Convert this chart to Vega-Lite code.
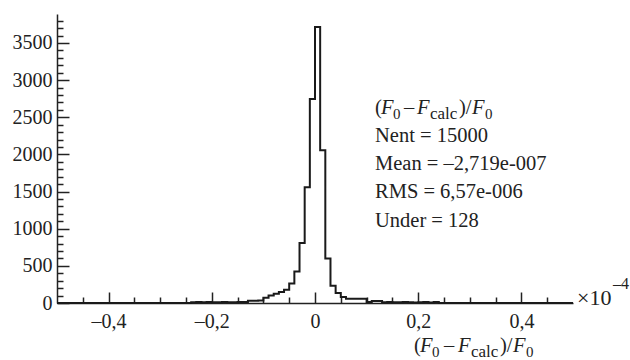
{
  "$schema": "https://vega.github.io/schema/vega-lite/v6.json",
  "width": 516,
  "height": 289,
  "autosize": {"type": "none"},
  "padding": {"left": 57, "top": 14, "right": 57, "bottom": 57},
  "background": "white",
  "config": {
    "view": {"stroke": null},
    "font": "Liberation Serif",
    "axis": {
      "labelFont": "Liberation Serif",
      "labelFontSize": 20,
      "labelColor": "#222",
      "domainColor": "#222",
      "tickColor": "#222",
      "domainWidth": 1.5,
      "tickWidth": 1.5,
      "grid": false,
      "title": null,
      "labelOverlap": false,
      "labelFlush": false
    },
    "text": {"font": "Liberation Serif", "color": "#222", "fontSize": 20.5, "align": "left", "baseline": "alphabetic"}
  },
  "datasets": {
    "hist": [
      {"x": -0.5, "n": 0}, {"x": -0.24, "n": 10}, {"x": -0.23, "n": 12}, {"x": -0.22, "n": 10}, {"x": -0.21, "n": 12},
      {"x": -0.2, "n": 10}, {"x": -0.19, "n": 10}, {"x": -0.18, "n": 12}, {"x": -0.17, "n": 10}, {"x": -0.16, "n": 10},
      {"x": -0.15, "n": 12}, {"x": -0.14, "n": 12}, {"x": -0.13, "n": 30}, {"x": -0.12, "n": 30}, {"x": -0.11, "n": 32},
      {"x": -0.1, "n": 72}, {"x": -0.09, "n": 100}, {"x": -0.08, "n": 126}, {"x": -0.07, "n": 148}, {"x": -0.06, "n": 180},
      {"x": -0.05, "n": 261}, {"x": -0.04, "n": 425}, {"x": -0.03, "n": 808}, {"x": -0.02, "n": 1557}, {"x": -0.01, "n": 2746},
      {"x": 0.0, "n": 3715}, {"x": 0.01, "n": 2055}, {"x": 0.02, "n": 598}, {"x": 0.03, "n": 232}, {"x": 0.04, "n": 135},
      {"x": 0.05, "n": 81}, {"x": 0.06, "n": 57}, {"x": 0.07, "n": 57}, {"x": 0.08, "n": 57}, {"x": 0.09, "n": 57},
      {"x": 0.1, "n": 12}, {"x": 0.11, "n": 27}, {"x": 0.12, "n": 27}, {"x": 0.13, "n": 10}, {"x": 0.14, "n": 12},
      {"x": 0.15, "n": 10}, {"x": 0.16, "n": 10}, {"x": 0.17, "n": 12}, {"x": 0.18, "n": 10}, {"x": 0.19, "n": 8},
      {"x": 0.2, "n": 10}, {"x": 0.21, "n": 14}, {"x": 0.22, "n": 8}, {"x": 0.23, "n": 12}, {"x": 0.24, "n": 0},
      {"x": 0.5, "n": 0}
    ],
    "one": [{}]
  },
  "resolve": {"axis": {"x": "independent", "y": "independent"}},
  "layer": [
    {
      "data": {"name": "hist"},
      "mark": {"type": "line", "interpolate": "step-after", "strokeOpacity": 0},
      "encoding": {
        "x": {
          "field": "x", "type": "quantitative",
          "scale": {"domain": [-0.5, 0.5], "nice": false, "zero": false},
          "axis": {"orient": "bottom", "values": [-0.45, -0.35, -0.3, -0.25, -0.15, -0.1, -0.05, 0.05, 0.1, 0.15, 0.25, 0.3, 0.35, 0.45], "tickSize": -6, "labels": false, "domain": false}
        },
        "y": {
          "field": "n", "type": "quantitative",
          "scale": {"domain": [0, 3890], "nice": false},
          "axis": {"orient": "left", "values": [100, 200, 300, 400, 600, 700, 800, 900, 1100, 1200, 1300, 1400, 1600, 1700, 1800, 1900, 2100, 2200, 2300, 2400, 2600, 2700, 2800, 2900, 3100, 3200, 3300, 3400, 3600, 3700, 3800], "tickSize": -6, "labels": false, "domain": false}
        }
      }
    },
    {
      "data": {"name": "hist"},
      "mark": {"type": "line", "interpolate": "step-after", "color": "#1a1a1a", "strokeWidth": 2},
      "encoding": {
        "x": {
          "field": "x", "type": "quantitative",
          "axis": {
            "orient": "bottom",
            "values": [-0.4, -0.2, 0, 0.2, 0.4],
            "tickSize": -11,
            "labelPadding": 19,
            "labelExpr": "datum.value === 0 ? '0' : (datum.value < 0 ? '–' : '') + replace(format(abs(datum.value), '.1f'), '.', ',')"
          }
        },
        "y": {
          "field": "n", "type": "quantitative",
          "axis": {
            "orient": "left",
            "values": [0, 500, 1000, 1500, 2000, 2500, 3000, 3500],
            "format": "d",
            "tickSize": -12,
            "labelPadding": 17
          }
        }
      }
    },
    {"data": {"name": "one"}, "mark": {"type": "text", "dx": 0}, "encoding": {"x": {"datum": 0.1163, "axis": null}, "y": {"datum": 2544, "axis": null}, "text": {"value": "("}}},
    {"data": {"name": "one"}, "mark": {"type": "text", "dx": 6, "fontStyle": "italic"}, "encoding": {"x": {"datum": 0.1163, "axis": null}, "y": {"datum": 2544, "axis": null}, "text": {"value": "F"}}},
    {"data": {"name": "one"}, "mark": {"type": "text", "dx": 18, "dy": 5, "fontSize": 15}, "encoding": {"x": {"datum": 0.1163, "axis": null}, "y": {"datum": 2544, "axis": null}, "text": {"value": "0"}}},
    {"data": {"name": "one"}, "mark": {"type": "text", "dx": 29}, "encoding": {"x": {"datum": 0.1163, "axis": null}, "y": {"datum": 2544, "axis": null}, "text": {"value": "–"}}},
    {"data": {"name": "one"}, "mark": {"type": "text", "dx": 42, "fontStyle": "italic"}, "encoding": {"x": {"datum": 0.1163, "axis": null}, "y": {"datum": 2544, "axis": null}, "text": {"value": "F"}}},
    {"data": {"name": "one"}, "mark": {"type": "text", "dx": 55, "dy": 5, "fontSize": 17}, "encoding": {"x": {"datum": 0.1163, "axis": null}, "y": {"datum": 2544, "axis": null}, "text": {"value": "calc"}}},
    {"data": {"name": "one"}, "mark": {"type": "text", "dx": 84}, "encoding": {"x": {"datum": 0.1163, "axis": null}, "y": {"datum": 2544, "axis": null}, "text": {"value": ")/"}}},
    {"data": {"name": "one"}, "mark": {"type": "text", "dx": 97, "fontStyle": "italic"}, "encoding": {"x": {"datum": 0.1163, "axis": null}, "y": {"datum": 2544, "axis": null}, "text": {"value": "F"}}},
    {"data": {"name": "one"}, "mark": {"type": "text", "dx": 110, "dy": 5, "fontSize": 15}, "encoding": {"x": {"datum": 0.1163, "axis": null}, "y": {"datum": 2544, "axis": null}, "text": {"value": "0"}}},
    {"data": {"name": "one"}, "mark": {"type": "text", "lineHeight": 28.3}, "encoding": {"x": {"datum": 0.1163, "axis": null}, "y": {"datum": 2171, "axis": null}, "text": {"value": ["Nent = 15000", "Mean = –2,719e-007", "RMS = 6,57e-006", "Under = 128"]}}},
    {"data": {"name": "one"}, "mark": {"type": "text", "dx": 4, "dy": 2, "fontSize": 22}, "encoding": {"x": {"datum": 0.5, "axis": null}, "y": {"datum": 0, "axis": null}, "text": {"value": "×10"}}},
    {"data": {"name": "one"}, "mark": {"type": "text", "dx": 40, "dy": -14, "fontSize": 16}, "encoding": {"x": {"datum": 0.5, "axis": null}, "y": {"datum": 0, "axis": null}, "text": {"value": "–4"}}},
    {"data": {"name": "one"}, "mark": {"type": "text", "dx": 0, "dy": 49}, "encoding": {"x": {"datum": 0.1919, "axis": null}, "y": {"datum": 0, "axis": null}, "text": {"value": "("}}},
    {"data": {"name": "one"}, "mark": {"type": "text", "dx": 6, "dy": 49, "fontStyle": "italic"}, "encoding": {"x": {"datum": 0.1919, "axis": null}, "y": {"datum": 0, "axis": null}, "text": {"value": "F"}}},
    {"data": {"name": "one"}, "mark": {"type": "text", "dx": 18, "dy": 54, "fontSize": 15}, "encoding": {"x": {"datum": 0.1919, "axis": null}, "y": {"datum": 0, "axis": null}, "text": {"value": "0"}}},
    {"data": {"name": "one"}, "mark": {"type": "text", "dx": 30, "dy": 49}, "encoding": {"x": {"datum": 0.1919, "axis": null}, "y": {"datum": 0, "axis": null}, "text": {"value": "–"}}},
    {"data": {"name": "one"}, "mark": {"type": "text", "dx": 44, "dy": 49, "fontStyle": "italic"}, "encoding": {"x": {"datum": 0.1919, "axis": null}, "y": {"datum": 0, "axis": null}, "text": {"value": "F"}}},
    {"data": {"name": "one"}, "mark": {"type": "text", "dx": 57, "dy": 54, "fontSize": 17}, "encoding": {"x": {"datum": 0.1919, "axis": null}, "y": {"datum": 0, "axis": null}, "text": {"value": "calc"}}},
    {"data": {"name": "one"}, "mark": {"type": "text", "dx": 86, "dy": 49}, "encoding": {"x": {"datum": 0.1919, "axis": null}, "y": {"datum": 0, "axis": null}, "text": {"value": ")/"}}},
    {"data": {"name": "one"}, "mark": {"type": "text", "dx": 99, "dy": 49, "fontStyle": "italic"}, "encoding": {"x": {"datum": 0.1919, "axis": null}, "y": {"datum": 0, "axis": null}, "text": {"value": "F"}}},
    {"data": {"name": "one"}, "mark": {"type": "text", "dx": 112, "dy": 54, "fontSize": 15}, "encoding": {"x": {"datum": 0.1919, "axis": null}, "y": {"datum": 0, "axis": null}, "text": {"value": "0"}}}
  ]
}
